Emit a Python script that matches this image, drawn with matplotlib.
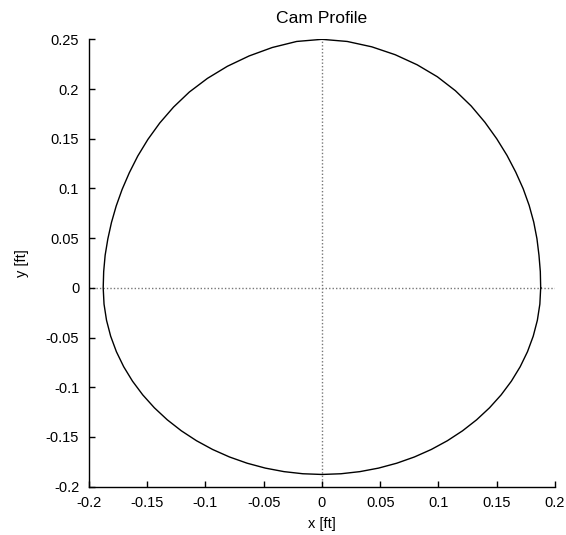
import matplotlib
matplotlib.use("Agg")
import matplotlib.pyplot as plt
import numpy as np

# cam radius every 5 degrees (0 deg = +x, counter-clockwise)
angle_deg = [0, 5, 10, 15, 20, 25, 30, 35, 40, 45, 50, 55, 60, 65, 70, 75, 80, 85,
             90, 95, 100, 105, 110, 115, 120, 125, 130, 135, 140, 145, 150, 155,
             160, 165, 170, 175,
             180, 185, 190, 195, 200, 205, 210, 215, 220, 225, 230, 235, 240, 245,
             250, 255, 260, 265, 270, 275, 280, 285, 290, 295, 300, 305, 310, 315,
             320, 325, 330, 335, 340, 345, 350, 355, 360]
radius_ft = [0.1877, 0.1881, 0.1891, 0.1910, 0.1934, 0.1962, 0.1994, 0.2030, 0.2073,
             0.2121, 0.2175, 0.2233, 0.2290, 0.2343, 0.2388, 0.2428, 0.2462, 0.2488,
             0.2500, 0.2488, 0.2455, 0.2415, 0.2372, 0.2325, 0.2275, 0.2220, 0.2165,
             0.2112, 0.2063, 0.2018, 0.1980, 0.1948, 0.1922, 0.1902, 0.1889, 0.1880,
             0.1877, 0.1877, 0.1877, 0.1877, 0.1877, 0.1877, 0.1877, 0.1877, 0.1877,
             0.1877, 0.1877, 0.1877, 0.1877, 0.1877, 0.1877, 0.1877, 0.1877, 0.1877,
             0.1877, 0.1877, 0.1877, 0.1877, 0.1877, 0.1877, 0.1877, 0.1877, 0.1877,
             0.1877, 0.1877, 0.1877, 0.1877, 0.1877, 0.1877, 0.1877, 0.1877, 0.1877,
             0.1877]

x_ticks = [-0.2, -0.15, -0.1, -0.05, 0, 0.05, 0.1, 0.15, 0.2]
y_ticks = [-0.2, -0.15, -0.1, -0.05, 0, 0.05, 0.1, 0.15, 0.2, 0.25]


def fmt(v):
    s = "%g" % v
    return "0" if s in ("0", "-0") else s


theta = np.radians(angle_deg)
r = np.array(radius_ft)
x_ft = r * np.cos(theta)
y_ft = r * np.sin(theta)

plt.rcParams['font.family'] = ['Liberation Sans', 'DejaVu Sans']
plt.rcParams['font.size'] = 10.5

fig = plt.figure(figsize=(5.66, 5.35), dpi=100)
ax = fig.add_axes([0.157, 0.0903, 0.8236, 0.8362])

ax.axhline(0, color='#777777', lw=1, dashes=(1, 1.5), zorder=1)
ax.axvline(0, color='#777777', lw=1, dashes=(1, 1.5), zorder=1)
ax.plot(x_ft, y_ft, color='black', lw=1, zorder=2)

ax.set_xlim(-0.2, 0.2)
ax.set_ylim(-0.2, 0.25)
ax.set_xticks(x_ticks)
ax.set_yticks(y_ticks)
ax.set_xticklabels([fmt(v) for v in x_ticks])
ax.set_yticklabels([fmt(v) for v in y_ticks])
ax.tick_params(direction='in', length=4.3, width=1, pad=7, colors='black')

for side in ('top', 'right'):
    ax.spines[side].set_visible(False)
for side in ('left', 'bottom'):
    ax.spines[side].set_linewidth(1)

ax.set_title("Cam Profile", pad=12)
ax.set_xlabel("x [ft]", labelpad=5)
ax.set_ylabel("y [ft]", labelpad=12)

fig.savefig("out.png", dpi=100)
